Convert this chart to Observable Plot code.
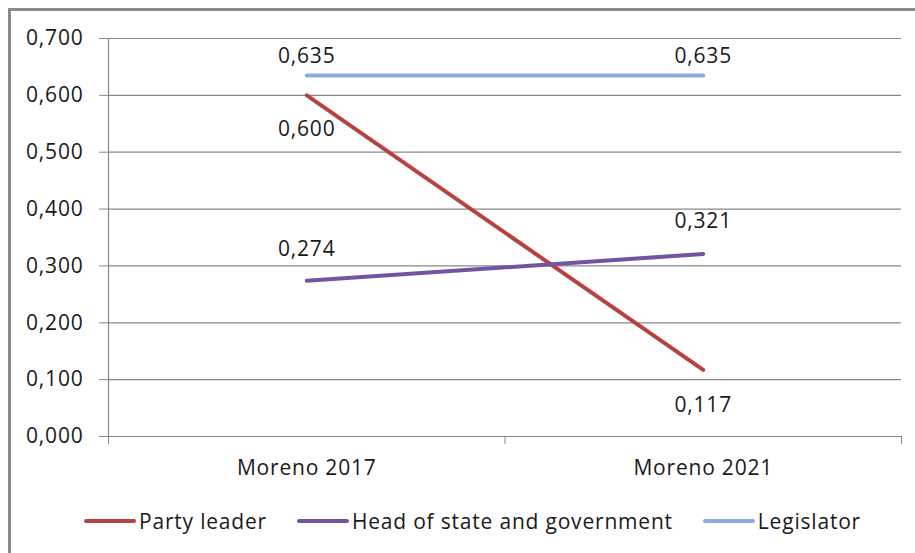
<!DOCTYPE html>
<html>
<head>
<meta charset="utf-8">
<script src="https://cdn.jsdelivr.net/npm/d3@7"></script>
<script src="https://cdn.jsdelivr.net/npm/@observablehq/plot@0.6"></script>
<style>
  html, body { margin: 0; padding: 0; background: #fff; overflow: hidden; }
  body { width: 915px; height: 553px; position: relative; font-family: "Open Sans", Lato, sans-serif; }
  #frame { position: absolute; left: 8px; top: 8px; width: 1000px; height: 1000px; border: 3px solid #8a8a8a; box-sizing: border-box; }
  #chart { position: absolute; left: 0; top: 0; }
  #legend { position: absolute; left: 0; top: 507px; width: 915px; display: flex; justify-content: center; gap: 30px; font-size: 21px; letter-spacing: 0.8px; color: #1a1a1a; padding-left: 30px; box-sizing: border-box; }
  .item { display: flex; align-items: center; gap: 3px; }
  .sw { width: 52px; height: 4px; border-radius: 2px; }
</style>
</head>
<body>
<div id="frame"></div>
<div id="chart"></div>
<div id="legend"></div>
<script>
const categories = ["Moreno 2017", "Moreno 2021"];
const seriesNames = ["Party leader", "Head of state and government", "Legislator"];
const partyLeader = [0.600, 0.117];
const headOfState = [0.274, 0.321];
const legislator = [0.635, 0.635];
const yTicks = [0, 0.1, 0.2, 0.3, 0.4, 0.5, 0.6, 0.7];

const colors = ["#B8423F", "#7254A0", "#8EA9DB"];
const seriesValues = [partyLeader, headOfState, legislator];

const data = [];
seriesValues.forEach((vals, s) => vals.forEach((v, i) => data.push({series: seriesNames[s], idx: i, value: v})));

// label offsets (styling, not data)
const labelDy = {
  "Party leader": [34, 35],
  "Head of state and government": [-31, -33],
  "Legislator": [-19, -19]
};

const fmt = v => d3.format(".3f")(v).replace(".", ",");
const FONT = "'Open Sans', Lato, sans-serif";

const chart = Plot.plot({
  width: 915,
  height: 481,
  marginLeft: 108,
  marginRight: 14,
  marginTop: 38,
  marginBottom: 45,
  style: {fontFamily: FONT, fontSize: "21px", letterSpacing: "0.8px", color: "#1a1a1a", background: "transparent"},
  x: {type: "linear", domain: [-0.5, categories.length - 0.5], axis: null},
  y: {domain: [0, 0.7], axis: null},
  color: {domain: seriesNames, range: colors},
  marks: [
    Plot.gridY(yTicks, {stroke: "#878787", strokeOpacity: 1, strokeWidth: 1.2}),
    Plot.axisY(yTicks, {tickSize: 9, tickPadding: 16, stroke: "#878787", tickFormat: fmt, fontSize: 21, label: null}),
    Plot.ruleX([-0.5], {stroke: "#878787", strokeWidth: 1.2}),
    Plot.axisX(d3.range(categories.length + 1).map(i => i - 0.5), {tickSize: 8, stroke: "#878787", tickFormat: () => "", label: null}),
    Plot.axisX(d3.range(categories.length), {tickSize: 0, tickPadding: 24, tickFormat: i => categories[i], fontSize: 21, label: null}),
    Plot.line(data, {x: "idx", y: "value", z: "series", stroke: "series", strokeWidth: 4, strokeLinecap: "round"}),
    ...data.map(d =>
      Plot.text([d], {
        x: "idx", y: "value", text: p => fmt(p.value),
        dy: labelDy[d.series][d.idx], fontSize: 21, fill: "#1a1a1a"
      })
    )
  ]
});
document.getElementById("chart").append(chart);

const legend = document.getElementById("legend");
seriesNames.forEach((n, i) => {
  const it = document.createElement("div");
  it.className = "item";
  const sw = document.createElement("div");
  sw.className = "sw";
  sw.style.background = colors[i];
  const t = document.createElement("span");
  t.textContent = n;
  it.append(sw, t);
  legend.append(it);
});
</script>
</body>
</html>
